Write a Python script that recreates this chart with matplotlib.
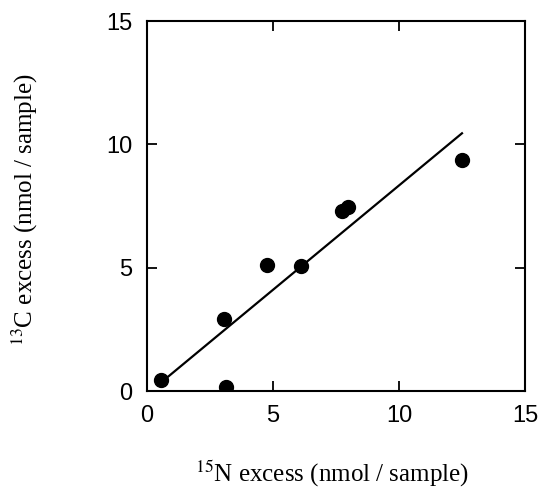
import matplotlib
matplotlib.use("Agg")
import matplotlib.pyplot as plt

# data
n15_excess = [0.55, 3.05, 3.15, 4.75, 6.1, 7.75, 7.97, 12.5]
c13_excess = [0.45, 2.9, 0.16, 5.1, 5.07, 7.3, 7.45, 9.38]

# regression line endpoints
fit_x = [0.6, 12.5]
fit_y = [0.38, 10.45]

ticks = [0, 5, 10, 15]

plt.rcParams["font.family"] = ["Liberation Sans", "DejaVu Sans"]
plt.rcParams["mathtext.fontset"] = "stix"

fig = plt.figure(figsize=(5.41, 4.9), dpi=100)
ax = fig.add_axes([0.2717, 0.202, 0.6987, 0.755])

ax.plot(fit_x, fit_y, color="black", linewidth=1.6)
ax.plot(n15_excess, c13_excess, "o", color="black", markersize=10)

ax.set_xlim(0, 15)
ax.set_ylim(0, 15)
ax.set_xticks(ticks)
ax.set_yticks(ticks)
ax.tick_params(direction="in", length=7, width=1.3, top=True, right=True,
               labelsize=17)
ax.tick_params(axis="x", pad=10)
ax.tick_params(axis="y", pad=10.5)
for s in ax.spines.values():
    s.set_linewidth(1.5)

serif = {"family": "Liberation Serif", "size": 18}
ax.set_xlabel("$^{15}$N excess (nmol / sample)", fontdict=serif)
ax.set_ylabel("$^{13}$C excess (nmol / sample)", fontdict=serif)
ax.xaxis.set_label_coords(0.49, -0.184)
ax.yaxis.set_label_coords(-0.283, 0.49)

fig.savefig("out.png", dpi=100)
